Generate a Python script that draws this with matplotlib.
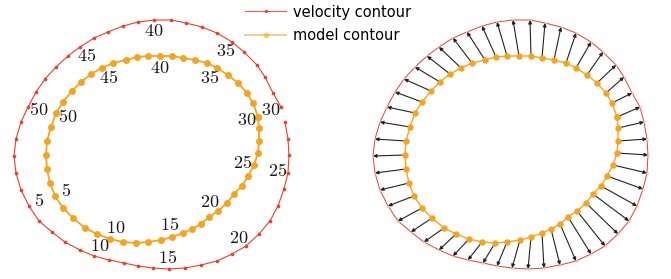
import matplotlib
matplotlib.use('Agg')
import matplotlib.pyplot as plt
from matplotlib.lines import Line2D
import numpy as np

# %% Data — contour points (pixel-like units, y down)
# index 0 is the point labelled "30"; points run counter-clockwise on screen
vel_x = [281, 273, 265, 257, 244, 232, 217, 202, 186, 171,
         154, 138, 123, 108, 94, 80, 68, 56, 45, 36,
         28, 21, 16, 14, 16, 21, 29, 39, 52, 65,
         80, 94, 109, 124, 138, 153, 169, 185, 201, 217,
         232, 246, 259, 270, 278, 284, 288, 289, 288, 285]
vel_y = [107, 93, 77, 65, 52, 42, 33, 27, 23, 20,
         20, 22, 26, 32, 38, 47, 56, 67, 79, 92,
         107, 122, 139, 156, 173, 190, 206, 221, 232, 242,
         250, 256, 260, 263, 266, 268, 269, 268, 265, 261,
         254, 246, 234, 221, 206, 189, 173, 155, 139, 122]

model_x = [258, 253, 247, 238, 228, 217, 207, 195, 183, 172,
           160, 148, 137, 126, 113, 102, 91, 81, 72, 63,
           56, 51, 47, 46, 47, 50, 55, 63, 73, 85,
           97, 110, 123, 136, 148, 161, 172, 183, 192, 201,
           209, 218, 227, 234, 242, 248, 254, 258, 259, 259]
model_y = [117, 103, 93, 83, 75, 68, 63, 60, 58, 56,
           56, 56, 57, 60, 63, 68, 74, 82, 91, 102,
           113, 127, 141, 155, 169, 183, 196, 208, 218, 228,
           234, 239, 242, 243, 242, 240, 237, 233, 229, 224,
           217, 211, 203, 194, 186, 176, 165, 153, 141, 128]

label_idx  = [0, 5, 10, 15, 20, 26, 31, 36, 41, 46]
label_text = ['30', '35', '40', '45', '50', '5', '10', '15', '20', '25']

RED    = '#ef3d2c'
ORANGE = '#f5a421'

plt.rcParams['mathtext.fontset'] = 'cm'

vx, vy = np.array(vel_x, float), np.array(vel_y, float)
mx, my = np.array(model_x, float), np.array(model_y, float)

fig = plt.figure(figsize=(6.71, 2.79), dpi=100)
ax1 = fig.add_axes([0, 0, 335 / 671, 1])
ax2 = fig.add_axes([359 / 671, 0, 312 / 671, 1])
ax1.set_xlim(0, 335); ax1.set_ylim(279, 0)
ax2.set_xlim(0, 312); ax2.set_ylim(279, 0)
for ax in (ax1, ax2):
    ax.axis('off')

# %% Left: labelled contours
ax1.plot(vx, vy, '-', color=RED, lw=0.8, marker='o', ms=2.6, mec='none')
ax1.plot(np.append(mx, mx[0]), np.append(my, my[0]), '-', color=ORANGE, lw=1.3,
         marker='o', ms=5.0, mec='none')


def put_labels(ax, xs, ys, dist):
    cx, cy = xs.mean(), ys.mean()
    for i, t in zip(label_idx, label_text):
        dx, dy = cx - xs[i], cy - ys[i]
        n = np.hypot(dx, dy)
        ax.text(xs[i] + dist * dx / n, ys[i] + dist * dy / n, f'${t}$',
                fontsize=13, ha='center', va='center', color='#1a1a1a')


put_labels(ax1, vx, vy, 11)
put_labels(ax1, mx, my, 12)

# %% Right: displacement arrows model -> velocity
ax2.plot(np.append(vx, vx[0]), np.append(vy, vy[0]), '-', color=RED, lw=0.7,
         marker='o', ms=2.0, mfc='#f9c2bb', mec='none', zorder=1)
ax2.plot(np.append(mx, mx[0]), np.append(my, my[0]), '-', color=ORANGE, lw=1.0,
         marker='o', ms=4.6, mec='none', zorder=3)
for x0, y0, x1, y1 in zip(mx, my, vx, vy):
    ax2.annotate('', xy=(x1, y1), xytext=(x0, y0),
                 arrowprops=dict(arrowstyle='-|>', color='#222222', lw=0.8,
                                 mutation_scale=5, shrinkA=0, shrinkB=0),
                 zorder=2)

# %% Legend
handles = [Line2D([], [], color=RED, lw=0.8, marker='o', ms=2.6, mec='none', alpha=0.85),
           Line2D([], [], color=ORANGE, lw=1.3, marker='o', ms=4.0, mec='none', alpha=0.6)]
fig.legend(handles, ['velocity contour', 'model contour'], loc='upper left',
           bbox_to_anchor=(238 / 671, 1.01), frameon=False, borderpad=0,
           handlelength=2.8, handletextpad=0.45, labelspacing=0.6,
           prop={'family': 'DejaVu Sans', 'size': 10.5})

fig.savefig('out.png', dpi=100)
